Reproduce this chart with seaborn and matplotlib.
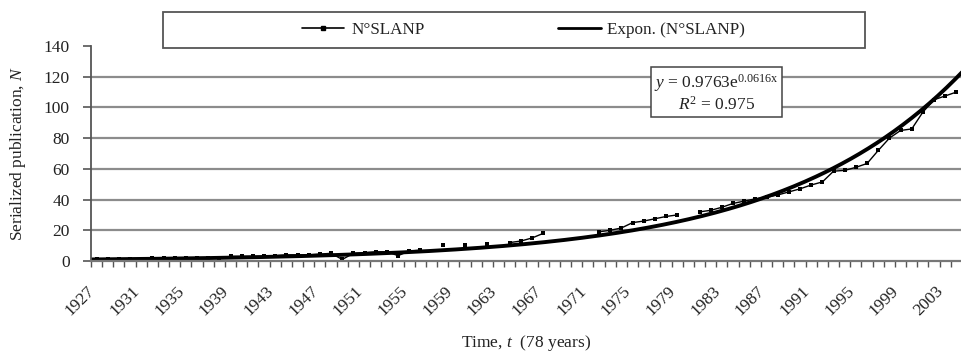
import numpy as np
import pandas as pd
import matplotlib
matplotlib.use("Agg")
import matplotlib.pyplot as plt
import matplotlib.transforms as mtrans
import seaborn as sns
from matplotlib.patches import Rectangle
from matplotlib.lines import Line2D

# ---------------- data ----------------
years = list(range(1927, 2005))
nan = np.nan
n_slanp = [
    1, 1, 1, 1, 1,            # 1927-1931
    2, 2, 2, 2, 2, 2, 2,      # 1932-1938
    3, 3, 3, 3, 3.5,          # 1939-1943
    4, 4, 4, 4.5, 5,          # 1944-1948
    1, 5, 5.5, 6, 6,          # 1949-1953
    3.5, 6.5, 7,              # 1954-1956
    nan, 10.5, nan, 10.5, nan, 11, nan,   # 1957-1963
    12, 13, 15, 18,           # 1964-1967
    nan, nan, nan, nan,       # 1968-1971
    19, 20, 21.5, 25, 26, 27.5, 29, 30,   # 1972-1979
    nan,                      # 1980
    32, 33, 35, 37.5, 39, 40.5, 41.5, 43, 45, 47, 49.5,  # 1981-1991
    51.5, 58.5, 59, 61, 63.5, 72, 80, 85, 86, 97, 105, 107.5, 110,  # 1992-2004
]
fit_a = 0.9763
fit_b = 0.0616
fit_r2 = 0.975
xtick_years = years[::4]
yticks = [0, 20, 40, 60, 80, 100, 120, 140]
series_label = "N°SLANP"
trend_label = "Expon. (N°SLANP)"

# ---------------- style ----------------
sns.set_theme(style="white")
plt.rcParams["font.family"] = ["Liberation Serif", "DejaVu Serif"]
plt.rcParams["mathtext.fontset"] = "custom"
plt.rcParams["mathtext.rm"] = "Liberation Serif"
plt.rcParams["mathtext.it"] = "Liberation Serif:italic"
txt = "#222222"
grid_c = "#8c8c8c"
FS = 12.5

W, H = 962, 356
fig = plt.figure(figsize=(W / 100, H / 100), dpi=100)
ax = fig.add_axes([91 / W, 95 / H, 871 / W, 215 / H])

df = pd.DataFrame({"idx": np.arange(len(years)), "year": years, "N": n_slanp})
df["seg"] = df["N"].isna().cumsum()
d = df.dropna()

for v in yticks[1:-1]:
    ax.axhline(v, color=grid_c, lw=1.6, zorder=0)

sns.lineplot(data=d, x="idx", y="N", units="seg", estimator=None, color="black",
             lw=1.0, marker="s", markersize=3, markeredgewidth=0, ax=ax, legend=False)

xs = np.linspace(-0.5, len(years) - 0.5, 400)
trend = pd.DataFrame({"idx": xs, "fit": fit_a * np.exp(fit_b * (xs + 1))})
sns.lineplot(data=trend, x="idx", y="fit", color="black", lw=2.8, ax=ax, legend=False)

ax.set_xlim(-0.5, len(years) - 0.5)
ax.set_ylim(0, 140)

for s in ["top", "right"]:
    ax.spines[s].set_visible(False)
ax.spines["left"].set_color("#555555")
ax.spines["left"].set_linewidth(1.3)
ax.spines["bottom"].set_color("#777777")
ax.spines["bottom"].set_linewidth(1.6)

ax.set_yticks(yticks)
ax.set_yticklabels([str(v) for v in yticks], fontsize=FS, color=txt)
ax.tick_params(axis="y", direction="out", length=6, width=1.2, color="#555555", pad=9.4, left=True)

pos = [years.index(y) for y in xtick_years]
ax.set_xticks(pos)
ax.set_xticklabels([str(y) for y in xtick_years], rotation=45, ha="right", va="center",
                   rotation_mode="anchor", fontsize=FS, color=txt)
ax.tick_params(axis="x", which="major", length=0, pad=20, bottom=True)
shift = mtrans.ScaledTranslation(-4 / 100, 0, fig.dpi_scale_trans)
for lab in ax.get_xticklabels():
    lab.set_transform(lab.get_transform() + shift)
ax.set_xticks(np.arange(len(years) + 1) - 0.5, minor=True)
ax.tick_params(axis="x", which="minor", direction="out", length=4, width=1, color="#555555", bottom=True)

ax.set_xlabel("Time, $t$  (78 years)", fontsize=FS, color=txt)
ax.xaxis.label.set_va("center")
ax.xaxis.set_label_coords(0.5, -(343 - 261) / 215)
ax.set_ylabel("Serialized publication, $N$", fontsize=FS, color=txt)
ax.yaxis.label.set_va("center")
ax.yaxis.set_label_coords((18 - 91) / 871, 0.5)

# legend
handles = [Line2D([], [], color="black", lw=1.2, marker="s", markersize=3.5),
           Line2D([], [], color="black", lw=2.0)]
fig.legend(handles=handles, labels=[series_label, trend_label], loc="center",
           bbox_to_anchor=(523.5 / W, 1 - 30 / H), ncol=2, frameon=False,
           handlelength=2.5, handletextpad=0.4, columnspacing=7.8, fontsize=12.3,
           labelcolor=txt)
fig.patches.append(Rectangle((163 / W, 1 - 48 / H), 702 / W, 36 / H, transform=fig.transFigure,
                             fill=False, ec="#555555", lw=1.3))

# equation box
eq = "$y$ = %.4fe$^{\\mathrm{%.4fx}}$\n$R^2$ = %.3f" % (fit_a, fit_b, fit_r2)
fig.text(716.5 / W, 1 - 93 / H, eq, ha="center", va="center", multialignment="center",
         fontsize=FS, color=txt, linespacing=1.1,
         bbox=dict(boxstyle="square,pad=0.2", fc="white", ec="#444444", lw=1.1))

fig.savefig("out.png", dpi=100)
